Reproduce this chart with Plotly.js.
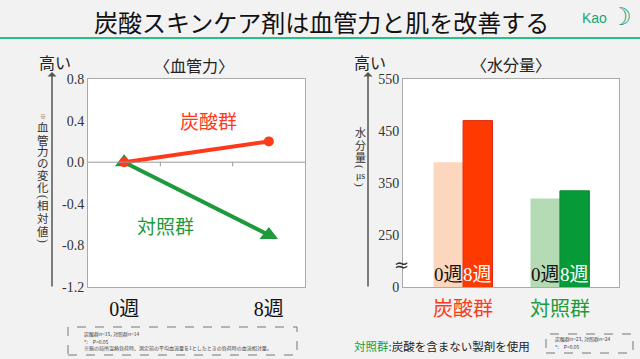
<!DOCTYPE html>
<html><head><meta charset="utf-8">
<script src="https://cdn.plot.ly/plotly-3.0.1.min.js"></script>
<style>html,body{margin:0;padding:0;background:#f2f2f2}#c{width:640px;height:359px}</style>
</head><body><div id="c"></div>
<script>
// ---- data ----
const vascWeeks = ['0週', '8週'];
const vascCarbonic = [0.0, 0.2];
const vascControl = [0.0, -0.7];
const vascTicks = [0.8, 0.4, 0.0, -0.4, -0.8, -1.2];

const groups = ['炭酸群', '対照群'];
const weekLabels = ['0週', '8週'];
const moistureWeek0 = [390, 320];
const moistureWeek8 = [470, 335];
const moistureTickVals = [150, 250, 350, 450, 550];
const moistureTickText = ['0', '250', '350', '450', '550'];

// ---- helpers ----
const W = 640, H = 359;
const px = x => x / W, py = y => 1 - y / H;
const SERIF = 'Liberation Serif, Noto Sans CJK JP, serif';
const CJK = 'Noto Sans CJK JP, sans-serif';
const RED = '#ff3a1a', GREEN = '#1c9a3c';
const groupColors = [RED, GREEN];

const vascX = vascWeeks.map((w, i) => i * 2);

const traces = [
  {x: vascX, y: vascControl, xaxis: 'x', yaxis: 'y', mode: 'lines+markers', type: 'scatter',
   line: {color: GREEN, width: 4}, marker: {symbol: 'triangle-up', size: 16, color: GREEN}, hoverinfo: 'skip'},
  {x: vascX, y: vascCarbonic, xaxis: 'x', yaxis: 'y', mode: 'lines+markers', type: 'scatter',
   line: {color: RED, width: 4}, marker: {symbol: 'circle', size: 10, color: RED}, hoverinfo: 'skip'},
  {x: groups.map((g, i) => i), y: moistureWeek0, xaxis: 'x2', yaxis: 'y2', type: 'bar',
   marker: {color: ['#fcd6bd', '#b5dbb5'], line: {width: 0}}, hoverinfo: 'skip'},
  {x: groups.map((g, i) => i), y: moistureWeek8, xaxis: 'x2', yaxis: 'y2', type: 'bar',
   marker: {color: ['#ff3a00', '#079a38'], line: {width: 1, color: ['#e02a10', '#0a8a30']}}, hoverinfo: 'skip'}
];

const ann = [];
const A = (x, y, text, size, color, family, extra) => ann.push(Object.assign({
  xref: 'paper', yref: 'paper', x: px(x), y: py(y), text: text, showarrow: false,
  xanchor: 'center', yanchor: 'middle', font: {size: size, color: color || '#111', family: family || CJK}}, extra || {}));

// title + logo
A(321, 21, '炭酸スキンケア剤は血管力と肌を改善する', 24, '#111', CJK);
A(594, 18, 'Kao', 14, '#17a47a', 'Liberation Sans, sans-serif');
A(621, 17, '☽', 24, '#17a47a', 'DejaVu Sans');

// left panel texts
A(55, 62, '高い', 16, '#222');
A(194, 65, '〈血管力〉', 16, '#222');
A(208, 123, '炭酸群', 19, RED, SERIF);
A(165, 228, '対照群', 19, GREEN, SERIF);
A(43, 116, '※', 6, '#666');
const vLeft = ['血','管','力','の','変','化','(','相','対','値',')'];
const vLeftY = [127, 140, 152, 164, 176, 188, 197, 206, 219, 232, 241];
vLeft.forEach((c, i) => A(43, vLeftY[i], c, 11.5, '#333', SERIF, (c === '(' || c === ')') ? {textangle: 90} : {}));

// right panel texts
A(370, 62, '高い', 16, '#222');
A(511, 64, '〈水分量〉', 16, '#222');
const vRight = ['水','分','量','(','μs',')'];
const vRightY = [133, 146, 158, 167, 176, 185];
vRight.forEach((c, i) => A(360, vRightY[i], c, 11, '#333', SERIF,
  (c === '(' || c === ')') ? {textangle: 90} : (c === 'μs' ? {font: {size: 10, color: '#333', family: SERIF}} : {})));
A(401, 264, '≈', 18, '#333', 'DejaVu Sans');

// bar labels inside (at bar positions)
const off = 0.152;
groups.forEach((g, gi) => {
  ann.push({xref: 'x2', yref: 'paper', x: gi - off, y: py(274), text: weekLabels[0], showarrow: false, yanchor: 'middle',
            font: {size: 19, color: '#111', family: SERIF}});
  ann.push({xref: 'x2', yref: 'paper', x: gi + off, y: py(274), text: weekLabels[1], showarrow: false, yanchor: 'middle',
            font: {size: 19, color: '#fff', family: SERIF}});
});

// arrows
[[52, 72, 288], [368, 72, 288]].forEach(a => ann.push({
  xref: 'paper', yref: 'paper', x: px(a[0]), y: py(a[1]), ax: 0, ay: a[2] - a[1], axref: 'pixel', ayref: 'pixel',
  text: '', showarrow: true, arrowhead: 1, arrowsize: 1, arrowwidth: 1.5, arrowcolor: '#555'}));

// footnotes
A(82, 334, '炭酸群n=15, 対照群n=14', 5, '#444', CJK, {xanchor: 'left'});
A(82, 341, '*:　P<0.05', 5, '#444', CJK, {xanchor: 'left'});
A(82, 348, '※腕の局所温熱負荷時、測定前の平均血流量を1としたときの負荷時の血流相対量。', 5, '#444', CJK, {xanchor: 'left'});
A(553, 339, '炭酸群n=23, 対照群n=24', 5, '#444', CJK, {xanchor: 'left'});
A(553, 346, '*:　P<0.05', 5, '#444', CJK, {xanchor: 'left'});
A(352, 346, '<span style="color:#1c9a3c">対照群</span>:炭酸を含まない製剤を使用', 11.5, '#222', SERIF, {xanchor: 'left'});

const shapes = [
  {type: 'line', xref: 'paper', yref: 'paper', x0: 0, x1: 1, y0: py(38), y1: py(38), line: {color: '#2bbf88', width: 2}},
  {type: 'line', xref: 'x', yref: 'y', x0: -0.5, x1: 2.5, y0: 0, y1: 0, line: {color: '#999', width: 1}},
  {type: 'line', xref: 'x', yref: 'y', x0: 0.5, x1: 0.5, y0: 0, y1: -0.04, line: {color: '#999', width: 1}},
  {type: 'line', xref: 'x', yref: 'y', x0: 1.5, x1: 1.5, y0: 0, y1: -0.04, line: {color: '#999', width: 1}},
  {type: 'rect', xref: 'paper', yref: 'paper', x0: px(68), x1: px(297), y0: py(355), y1: py(327), line: {color: '#777', width: 1, dash: 'dash'}},
  {type: 'rect', xref: 'paper', yref: 'paper', x0: px(546), x1: px(633), y0: py(353), y1: py(334), line: {color: '#777', width: 1, dash: 'dash'}}
];

const axFrame = {showline: true, mirror: true, linecolor: '#aaa', linewidth: 1, showgrid: false, zeroline: false, ticks: ''};

const layout = {
  width: W, height: H, margin: {l: 0, r: 0, t: 0, b: 0},
  paper_bgcolor: '#f2f2f2', plot_bgcolor: '#fff', showlegend: false,
  barmode: 'group', bargap: 0.392, bargroupgap: 0,
  font: {family: SERIF},
  xaxis: Object.assign({}, axFrame, {domain: [px(88), px(305)], range: [-0.5, 2.5], tickvals: vascX, ticktext: vascWeeks,
    tickfont: {size: 20, color: '#111', family: SERIF}, ticklabelstandoff: 4}),
  yaxis: Object.assign({}, axFrame, {domain: [py(287), py(79)], range: [-1.2, 0.8], tickvals: vascTicks,
    ticktext: vascTicks.map(v => v.toFixed(1)), tickfont: {size: 14, color: '#333', family: SERIF}}),
  xaxis2: Object.assign({}, axFrame, {anchor: 'y2', domain: [px(403), px(619)], range: [-0.62, 1.61], tickvals: [0, 1],
    ticktext: groups.map((g, i) => '<span style="color:' + groupColors[i] + '">' + g + '</span>'),
    tickfont: {size: 20, family: SERIF}, ticklabelstandoff: 4}),
  yaxis2: Object.assign({}, axFrame, {anchor: 'x2', domain: [py(287), py(79)], range: [150, 550], tickvals: moistureTickVals,
    ticktext: moistureTickText, tickfont: {size: 14, color: '#333', family: SERIF}}),
  annotations: ann, shapes: shapes
};

Plotly.newPlot('c', traces, layout, {displayModeBar: false, staticPlot: true});
</script></body></html>
